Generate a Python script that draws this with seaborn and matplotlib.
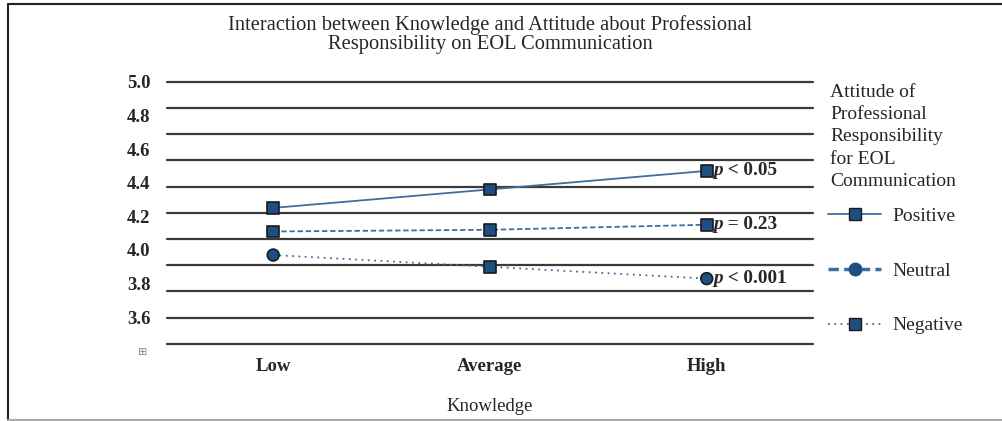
import numpy as np
import pandas as pd
import seaborn as sns
import matplotlib.pyplot as plt
from matplotlib.lines import Line2D

# values
knowledge = ['Low', 'Average', 'High']
positive = [4.25, 4.36, 4.47]
neutral = [4.11, 4.12, 4.15]
negative = [3.97, 3.90, 3.83]
neg_markers = ['o', 's', 'o']
p_labels = ['< 0.05', '= 0.23', '< 0.001']
y_ticks = [5.0, 4.8, 4.6, 4.4, 4.2, 4.0, 3.8, 3.6]

sns.set_style('white')
plt.rcParams['font.family'] = ['Liberation Serif', 'DejaVu Serif']

rows = []
for i, k in enumerate(knowledge):
    rows.append([k, positive[i], 'Positive', 's'])
    rows.append([k, neutral[i], 'Neutral', 's'])
    rows.append([k, negative[i], 'Negative', neg_markers[i]])
df = pd.DataFrame(rows, columns=['Knowledge', 'Score', 'Attitude', 'Marker'])

fig = plt.figure(figsize=(10.03, 4.21), dpi=100)
ax = fig.add_axes([0.1665, 0.1836, 0.644, 0.6223])

# horizontal rules (not aligned with the tick labels in the original)
for g in np.linspace(5.0, 3.443, 11):
    ax.axhline(g, color='#3a3a3a', lw=1.6, clip_on=False, zorder=1)

line_col = '#3f6e9e'
face = '#1f4f82'
styles = {'Positive': '-', 'Neutral': (0, (3, 1.5)), 'Negative': (0, (1, 2.5))}
for att, ls in styles.items():
    sub = df[df.Attitude == att]
    sns.lineplot(data=sub, x='Knowledge', y='Score', ax=ax, color=line_col,
                 lw=1.3, linestyle=ls, sort=False, zorder=3, legend=False)

sns.scatterplot(data=df, x='Knowledge', y='Score', style='Marker',
                markers={'s': 's', 'o': 'o'}, s=72, color=face,
                edgecolor='#1a1a1a', linewidth=1.2, ax=ax, zorder=4,
                legend=False)

# p-value labels next to the High points
for val, lab in zip([positive[2], neutral[2], negative[2]], p_labels):
    t1 = ax.annotate('p', xy=(2, val), xytext=(5, 0), textcoords='offset points',
                     va='center', ha='left', fontsize=13.8, fontweight='bold',
                     fontstyle='italic', zorder=5)
    ax.annotate(' ' + lab, xy=(1, 0), xycoords=t1, va='bottom', ha='left',
                fontsize=13.8, fontweight='bold', zorder=5)

ax.set_xlim(-0.49, 2.49)
ax.set_ylim(3.443, 5.0)
ax.set_yticks(y_ticks)
ax.set_yticklabels(['%.1f' % v for v in y_ticks], fontsize=13.5, fontweight='bold')
ax.set_xticks(range(len(knowledge)))
ax.set_xticklabels(knowledge, fontsize=13.5, fontweight='bold')
ax.tick_params(axis='y', length=0, pad=12)
ax.tick_params(axis='x', length=0, pad=10)
ax.set_xlabel('Knowledge', fontsize=13.5, labelpad=17)
ax.set_ylabel('')
for sp in ax.spines.values():
    sp.set_visible(False)

fig.text(0.489, 0.965, 'Interaction between Knowledge and Attitude about Professional\n'
         'Responsibility on EOL Communication', ha='center', va='top',
         fontsize=14.8, linespacing=1.03)

# legend title as its own text block, legend entries below it
fig.text(0.8275, 1 - 84 / 421, 'Attitude of\nProfessional\nResponsibility\nfor EOL\nCommunication',
         ha='left', va='top', fontsize=14, linespacing=1.4)

handles = [
    Line2D([], [], color=line_col, lw=1.3, ls='-', marker='s', ms=9,
           mfc=face, mec='#1a1a1a'),
    Line2D([], [], color=line_col, lw=2.5, ls=(0, (3, 1.5)), marker='o', ms=9,
           mfc=face, mec=face),
    Line2D([], [], color=line_col, lw=1.3, ls=(0, (1, 2.5)), marker='s', ms=9,
           mfc=face, mec='#1a1a1a'),
]
leg = fig.legend(handles, ['Positive', 'Neutral', 'Negative'],
                 loc='center left', bbox_to_anchor=(0.826, 1 - 271 / 421),
                 frameon=False, fontsize=14, handlelength=2.7,
                 handletextpad=0.6, labelspacing=1.9, borderaxespad=0,
                 borderpad=0)

# little anchor icon and page frame
fig.text(0.1425, 0.163, '\u229e', fontsize=8, color='#888888', ha='center',
         va='center', family='DejaVu Sans')
fig.add_artist(Line2D([8 / 1003, 1], [1 - 4 / 421] * 2, color='#222222', lw=1.5))
fig.add_artist(Line2D([8 / 1003] * 2, [1 - 4 / 421, 1 / 421], color='#222222', lw=1.5))
fig.add_artist(Line2D([8 / 1003, 1], [1 / 421] * 2, color='#aaaaaa', lw=1.5))

fig.savefig('out.png', dpi=100)
